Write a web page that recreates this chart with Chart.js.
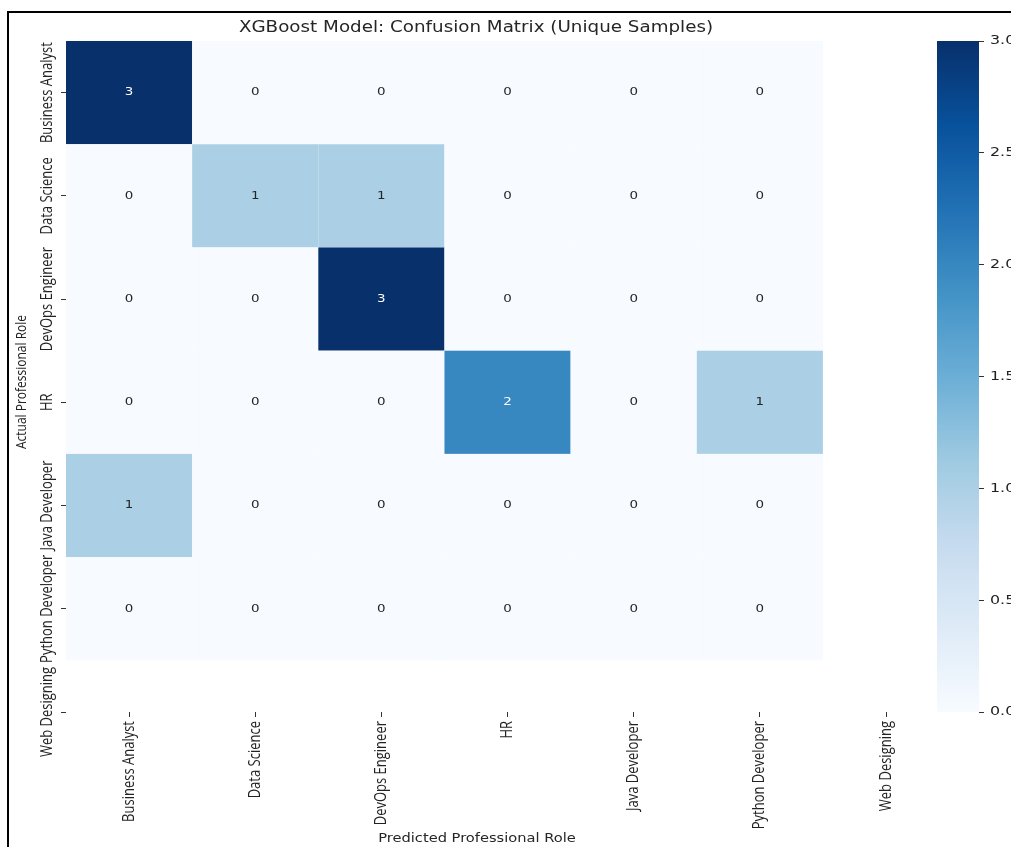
<!DOCTYPE html>
<html>
<head>
<meta charset="utf-8">
<script src="https://cdn.jsdelivr.net/npm/chart.js@4/dist/chart.umd.min.js"></script>
<style>
  html, body { margin: 0; padding: 0; background: #fff; }
  #wrap { position: relative; width: 1011px; height: 847px; overflow: hidden; }
  #frame { position: absolute; left: 7px; top: 11px; width: 1100px; height: 900px;
           border-left: 2px solid #000; border-top: 2px solid #000; pointer-events: none; }
  canvas { display: block; }
</style>
</head>
<body>
<div id="wrap">
  <canvas id="c" width="1011" height="847"></canvas>
  <div id="frame"></div>
</div>
<script>
// Role names used for both axes (predicted = columns, actual = rows)
const roles = ['Business Analyst', 'Data Science', 'DevOps Engineer', 'HR',
               'Java Developer', 'Python Developer', 'Web Designing'];

// Counts per actual role, one entry per predicted role
const actualBusinessAnalyst = [3, 0, 0, 0, 0, 0];
const actualDataScience     = [0, 1, 1, 0, 0, 0];
const actualDevOpsEngineer  = [0, 0, 3, 0, 0, 0];
const actualHR              = [0, 0, 0, 2, 0, 1];
const actualJavaDeveloper   = [1, 0, 0, 0, 0, 0];
const actualPythonDeveloper = [0, 0, 0, 0, 0, 0];

const colorbarTicks = [0, 0.5, 1, 1.5, 2, 2.5, 3];
const chartTitle = 'XGBoost Model: Confusion Matrix (Unique Samples)';
const xAxisTitle = 'Predicted Professional Role';
const yAxisTitle = 'Actual Professional Role';

const matrixRows = [actualBusinessAnalyst, actualDataScience, actualDevOpsEngineer,
                    actualHR, actualJavaDeveloper, actualPythonDeveloper];
const vmin = 0, vmax = 3;

// "Blues" sequential colour ramp
const bluesStops = ['#f7fbff', '#deebf7', '#c6dbef', '#9ecae1', '#6baed6',
                    '#4292c6', '#2171b5', '#08519c', '#08306b'];
function hexToRgb(h) {
  return [parseInt(h.slice(1, 3), 16), parseInt(h.slice(3, 5), 16), parseInt(h.slice(5, 7), 16)];
}
function blues(t) {
  t = Math.max(0, Math.min(1, t));
  const n = bluesStops.length - 1;
  const k = Math.min(n - 1, Math.floor(t * n));
  const f = t * n - k;
  const a = hexToRgb(bluesStops[k]), b = hexToRgb(bluesStops[k + 1]);
  const c = a.map((v, i) => Math.round(v + (b[i] - v) * f));
  return `rgb(${c[0]},${c[1]},${c[2]})`;
}

const cellData = [];
matrixRows.forEach((row, i) => row.forEach((v, j) => cellData.push({ x: j + 0.5, y: i + 0.5, v })));

const TEXT = '#222';
const WIDE = 1.22;          // horizontal widening applied to all text glyphs
const TICK_FONT = '13px "Open Sans"';

// Draw text, optionally rotated to read bottom-to-top, with widened glyphs
function drawText(ctx, text, x, y, opts) {
  ctx.save();
  ctx.font = opts.font;
  ctx.fillStyle = opts.color || TEXT;
  ctx.textAlign = opts.align || 'center';
  ctx.textBaseline = opts.baseline || 'middle';
  ctx.translate(x, y);
  if (opts.vertical) {
    ctx.rotate(-Math.PI / 2);
    ctx.scale(1, WIDE);
  } else {
    ctx.scale(WIDE, 1);
  }
  ctx.fillText(text, 0, 0);
  ctx.restore();
}

// Heatmap cells and their count labels, placed with the x/y scales
const heatmapPlugin = {
  id: 'heatmap',
  beforeDatasetsDraw(chart) {
    const { ctx, scales: { x, y } } = chart;
    ctx.save();
    chart.data.datasets[0].data.forEach(p => {
      const x0 = x.getPixelForValue(p.x - 0.5), x1 = x.getPixelForValue(p.x + 0.5);
      const y0 = y.getPixelForValue(p.y - 0.5), y1 = y.getPixelForValue(p.y + 0.5);
      ctx.fillStyle = blues((p.v - vmin) / (vmax - vmin));
      ctx.fillRect(Math.min(x0, x1), Math.min(y0, y1), Math.abs(x1 - x0), Math.abs(y1 - y0));
    });
    ctx.restore();
  },
  afterDatasetsDraw(chart) {
    const { ctx, scales: { x, y } } = chart;
    chart.data.datasets[0].data.forEach(p => {
      const dark = (p.v - vmin) / (vmax - vmin) > 0.5;
      drawText(ctx, String(p.v), x.getPixelForValue(p.x), y.getPixelForValue(p.y),
               { font: '11px "DejaVu Sans"', color: dark ? '#ffffff' : '#262626' });
    });
  }
};

// Colour bar gradient with its tick labels, spanning the cb scale
const colorbarPlugin = {
  id: 'colorbar',
  afterDraw(chart) {
    const { ctx } = chart;
    const cb = chart.scales.cb;
    const yTop = cb.getPixelForValue(vmax), yBot = cb.getPixelForValue(vmin);
    const x1 = cb.left, x0 = x1 - 42;
    const g = ctx.createLinearGradient(0, yBot, 0, yTop);
    bluesStops.forEach((c, i) => g.addColorStop(i / (bluesStops.length - 1), c));
    ctx.save();
    ctx.fillStyle = g;
    ctx.fillRect(x0, yTop, x1 - x0, yBot - yTop);
    ctx.restore();
    cb.ticks.forEach((t, i) => {
      drawText(ctx, Number(t.value).toFixed(1), cb.left + 11, cb.getPixelForTick(i),
               { font: '13px "DejaVu Sans"', align: 'left' });
    });
  }
};

// Axis tick labels, axis titles and the chart title
const labelsPlugin = {
  id: 'labels',
  afterDraw(chart) {
    const { ctx, chartArea, scales: { x, y } } = chart;
    y.ticks.forEach((t, i) => {
      drawText(ctx, roles[i], 47, y.getPixelForTick(i), { font: TICK_FONT, vertical: true });
    });
    x.ticks.forEach((t, i) => {
      drawText(ctx, roles[i], x.getPixelForTick(i), chartArea.bottom + 9,
               { font: TICK_FONT, vertical: true, align: 'right' });
    });
    const cx = (chartArea.left + chartArea.right) / 2;
    drawText(ctx, chartTitle, cx, 28, { font: '15px "DejaVu Sans"', color: '#262626' });
    drawText(ctx, xAxisTitle, cx + 1, 839, { font: '12px "DejaVu Sans"', color: '#262626' });
    drawText(ctx, yAxisTitle, 22, 382, { font: '12px "Open Sans"', vertical: true });
  }
};

const tickPositions = roles.map((_, i) => ({ value: i + 0.5 }));

new Chart(document.getElementById('c'), {
  type: 'scatter',
  data: {
    datasets: [{
      label: 'Count',
      data: cellData,
      pointRadius: 0,
      pointHoverRadius: 0,
      showLine: false
    }]
  },
  options: {
    responsive: false,
    animation: false,
    devicePixelRatio: 1,
    layout: { padding: { top: 41, left: 0, right: 0, bottom: 0 } },
    plugins: { legend: { display: false }, tooltip: { enabled: false }, title: { display: false } },
    scales: {
      x: {
        type: 'linear', position: 'bottom', min: 0, max: 6.5,
        afterBuildTicks: s => { s.ticks = tickPositions.map(t => ({ ...t })); },
        ticks: { display: false, autoSkip: false },
        grid: { display: true, drawOnChartArea: false, drawTicks: true, tickLength: 5, color: '#333' },
        border: { display: false },
        afterFit: s => { s.height = 135; }
      },
      y: {
        type: 'linear', position: 'left', reverse: true, min: 0, max: 6.5,
        afterBuildTicks: s => { s.ticks = tickPositions.map(t => ({ ...t })); },
        ticks: { display: false, autoSkip: false },
        grid: { display: true, drawOnChartArea: false, drawTicks: true, tickLength: 5, color: '#333' },
        border: { display: false },
        afterFit: s => { s.width = 66; }
      },
      gap: {
        type: 'linear', position: 'right', weight: 0, display: true,
        ticks: { display: false }, grid: { display: false }, border: { display: false },
        afterFit: s => { s.width = 93; }
      },
      cb: {
        type: 'linear', position: 'right', weight: 1, min: vmin, max: vmax,
        afterBuildTicks: s => { s.ticks = colorbarTicks.map(v => ({ value: v })); },
        ticks: { display: false, autoSkip: false },
        grid: { display: true, drawOnChartArea: false, drawTicks: true, tickLength: 5, color: '#333' },
        border: { display: false },
        afterFit: s => { s.width = 32; }
      }
    }
  },
  plugins: [heatmapPlugin, colorbarPlugin, labelsPlugin]
});
</script>
</body>
</html>
